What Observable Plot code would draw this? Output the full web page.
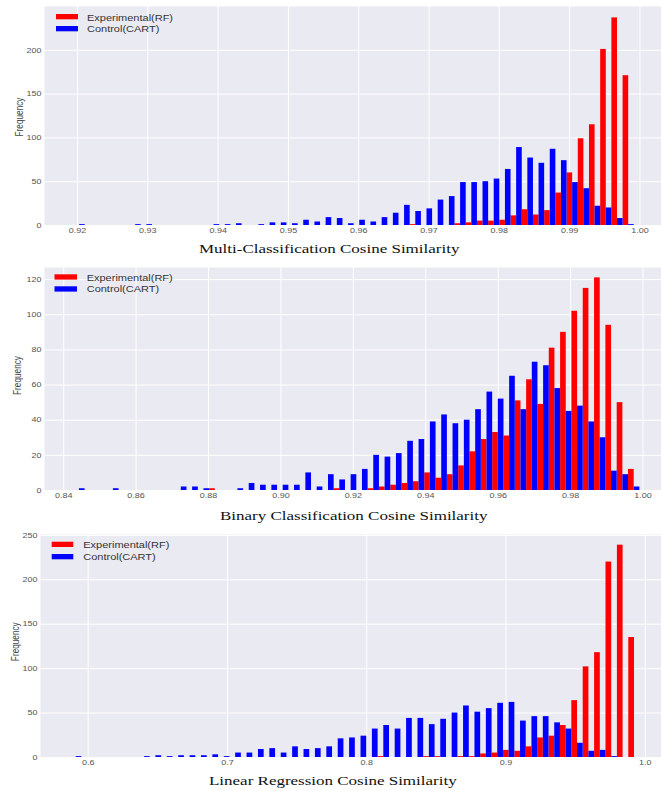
<!DOCTYPE html>
<html><head><meta charset="utf-8">
<script src="https://cdn.jsdelivr.net/npm/d3@7"></script>
<script src="https://cdn.jsdelivr.net/npm/@observablehq/plot@0.6"></script>
<style>
html,body{margin:0;padding:0;background:#fff;}
#wrap{position:relative;width:661px;height:791px;overflow:hidden;background:#fff;}
#wrap > .pl{position:absolute;left:0;}
</style></head>
<body><div id="wrap"></div>
<script>
// ---- data ----
const seriesNames = ["Experimental(RF)", "Control(CART)"];
const seriesColors = ["#ff0000", "#0000ff"];
const titles = ["Multi-Classification Cosine Similarity", "Binary Classification Cosine Similarity", "Linear Regression Cosine Similarity"];
const yLabel = "Frequency";

// bin range (first edge, last edge); 50 bins each
const multiEdges = [0.9195, 0.9992];
const binaryEdges = [0.84278, 0.99912];
const linearEdges = [0.5873, 0.9963];

const multiRF = [0,0,0,0,0,0,0,0,0,0, 0,0,0,0,0,0,0,0,0,0, 0,0,0,0,0,0,0,0,0,0,
  1,0,0,0,2,3,5,5,6,11, 18,12,17,37,60,99,115,201,237,171];
const multiCART = [1,0,0,0,0,1,1,0,0,0, 0,0,1,1,2,0,1,3,3,2, 6,4,9,8,2,6,4,9,14,23,
  16,19,29,33,49,49,50,53,64,89, 77,71,87,74,49,42,22,20,8,1];

const binaryRF = [0,0,0,0,0,0,0,0,0,0, 0,0,1,0,0,0,0,0,0,0, 0,0,0,1,0,0,1,2,3,4,
  5,10,7,9,14,22,29,33,31,51, 63,49,81,90,102,115,121,94,50,12];
const binaryCART = [1,0,0,1,0,0,0,0,0,2, 2,1,0,0,1,4,3,3,3,3, 10,2,9,6,9,12,20,19,21,28,
  29,39,43,38,40,46,56,52,65,46, 73,71,58,45,48,39,30,11,9,2];

const linearRF = [0,0,0,0,0,0,0,0,0,0, 0,0,0,0,0,0,0,0,0,0, 0,0,0,0,0,0,0,1,0,0,
  0,1,1,0,1,1,4,5,8,7, 12,22,24,36,64,102,118,220,239,135];
const linearCART = [1,0,0,0,0,0,1,2,1,2, 2,2,3,1,5,5,9,10,5,12, 9,10,12,21,22,24,32,36,32,44,
  44,37,43,50,58,51,55,61,62,41, 46,46,39,32,16,7,8,1,0,0];

const multiXTicks = [0.92,0.93,0.94,0.95,0.96,0.97,0.98,0.99,1.00];
const binaryXTicks = [0.84,0.86,0.88,0.90,0.92,0.94,0.96,0.98,1.00];
const linearXTicks = [0.6,0.7,0.8,0.9,1.0];
const multiYTicks = [0,50,100,150,200];
const binaryYTicks = [0,20,40,60,80,100,120];
const linearYTicks = [0,50,100,150,200,250];

// ---- layout ----
const SQ = 0.77; // vertical squash of the source figure
const panels = [
  {edges: multiEdges, rf: multiRF, cart: multiCART, xTicks: multiXTicks, yTicks: multiYTicks, fmt: ".2f",
   xDomain: [0.9153, 1.00307], yMax: 250, top: 0, height: 240, mt: 6, mb: 15, ml: 44,
   leg: {sx: 56, tx: 87, y1: 14, b1: 20.5, y2: 26, b2: 31.7, sw: 22},
   ylab: {x: 22.7, y: 117}, title: {x: 199, y: 253}},
  {edges: binaryEdges, rf: binaryRF, cart: binaryCART, xTicks: binaryXTicks, yTicks: binaryYTicks, fmt: ".2f",
   xDomain: [0.8347, 1.0051], yMax: 126.9, top: 260, height: 245, mt: 7, mb: 15, ml: 44,
   leg: {sx: 54.5, tx: 86.7, y1: 274.3, b1: 280.7, y2: 286.3, b2: 292.3, sw: 22.5},
   ylab: {x: 21.2, y: 375.5}, title: {x: 220, y: 519.5}},
  {edges: linearEdges, rf: linearRF, cart: linearCART, xTicks: linearXTicks, yTicks: linearYTicks, fmt: ".1f",
   xDomain: [0.5658, 1.0116], yMax: 251, top: 527, height: 245, mt: 7, mb: 15, ml: 40,
   leg: {sx: 51.7, tx: 83.3, y1: 541.7, b1: 547.7, y2: 554, b2: 560, sw: 21.6},
   ylab: {x: 18.5, y: 641.7}, title: {x: 209, y: 785}}
];

function bars(edges, rf, cart) {
  const [lo, hi] = edges, n = rf.length, w = (hi - lo) / n;
  const out = [];
  rf.forEach((c, i) => { if (c > 0) out.push({x1: lo + i * w, x2: lo + (i + 0.5) * w, count: c, series: seriesNames[0]}); });
  cart.forEach((c, i) => { if (c > 0) out.push({x1: lo + (i + 0.5) * w, x2: lo + (i + 1) * w, count: c, series: seriesNames[1]}); });
  return out;
}

const wrap = document.getElementById("wrap");

panels.forEach(P => {
  const data = bars(P.edges, P.rf, P.cart);
  const chart = Plot.plot({
    width: 661, height: P.height,
    marginTop: P.mt, marginBottom: P.mb, marginLeft: P.ml, marginRight: 0,
    style: {fontFamily: "'Liberation Sans', Arial, sans-serif", fontSize: "9px", color: "#555", background: "transparent"},
    x: {domain: P.xDomain},
    y: {domain: [0, P.yMax]},
    color: {domain: seriesNames, range: seriesColors},
    marks: [
      Plot.frame({fill: "#eaeaf2", stroke: "none"}),
      Plot.gridX(P.xTicks, {stroke: "#ffffff", strokeOpacity: 1, strokeWidth: 1}),
      Plot.gridY(P.yTicks, {stroke: "#ffffff", strokeOpacity: 1, strokeWidth: 1}),
      Plot.rect(data, {x1: "x1", x2: "x2", y1: 0, y2: "count", fill: "series", inset: 0}),
      Plot.axisX(P.xTicks, {tickSize: 0, tickPadding: 2.5, tickFormat: d3.format(P.fmt), label: null}),
      Plot.axisY(P.yTicks, {tickSize: 0, tickPadding: 3, tickFormat: d3.format("d"), label: null})
    ]
  });
  chart.classList.add("pl");
  chart.style.top = P.top + "px";
  chart.querySelectorAll("text").forEach(t => {
    const tr = t.getAttribute("transform");
    if (tr) t.setAttribute("transform", tr + ` scale(1,${SQ})`);
    else {
      const x = t.getAttribute("x") || 0, y = t.getAttribute("y") || 0;
      t.removeAttribute("x"); t.removeAttribute("y");
      t.setAttribute("transform", `translate(${x},${y}) scale(1,${SQ})`);
    }
  });
  wrap.appendChild(chart);
});

// ---- overlay: legends, y labels, titles ----
const ov = d3.select(wrap).append("svg")
  .attr("width", 661).attr("height", 791)
  .style("position", "absolute").style("left", 0).style("top", 0);

panels.forEach((P, k) => {
  const L = P.leg;
  [[L.y1, L.b1], [L.y2, L.b2]].forEach(([sy, b], j) => {
    ov.append("rect").attr("x", L.sx).attr("y", sy).attr("width", L.sw).attr("height", 5.3)
      .attr("fill", seriesColors[j]);
    ov.append("text").attr("transform", `translate(${L.tx},${b}) scale(1,${SQ})`)
      .attr("font-family", "'Liberation Sans', Arial, sans-serif").attr("font-size", 11)
      .attr("fill", "#333").text(seriesNames[j]);
  });
  ov.append("text").attr("transform", `translate(${P.ylab.x},${P.ylab.y}) scale(1,${SQ}) rotate(-90)`)
    .attr("text-anchor", "middle")
    .attr("font-family", "'Liberation Sans', Arial, sans-serif").attr("font-size", 10.7)
    .attr("fill", "#444").text(yLabel);
  ov.append("text").attr("transform", `translate(${P.title.x},${P.title.y}) scale(1,${SQ})`)
    .attr("font-family", "'Liberation Serif', 'Times New Roman', serif").attr("font-size", 17)
    .attr("fill", "#111").text(titles[k]);
});
</script>
</body></html>
